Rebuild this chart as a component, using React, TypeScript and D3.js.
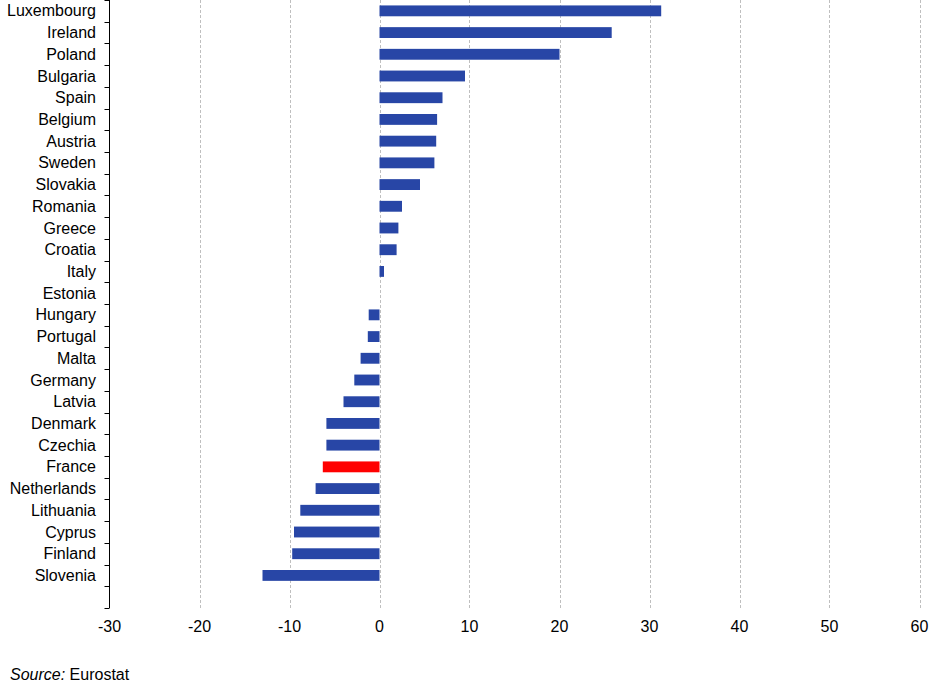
import React from "react";
import * as d3 from "d3";

const countries = [
  "Luxembourg", "Ireland", "Poland", "Bulgaria", "Spain", "Belgium", "Austria",
  "Sweden", "Slovakia", "Romania", "Greece", "Croatia", "Italy", "Estonia",
  "Hungary", "Portugal", "Malta", "Germany", "Latvia", "Denmark", "Czechia",
  "France", "Netherlands", "Lithuania", "Cyprus", "Finland", "Slovenia",
];
const values = [
  31.3, 25.8, 20.0, 9.5, 7.0, 6.4, 6.3,
  6.1, 4.5, 2.5, 2.1, 1.9, 0.5, 0.0,
  -1.2, -1.3, -2.1, -2.8, -4.0, -5.9, -5.9,
  -6.3, -7.1, -8.8, -9.5, -9.7, -13.0,
];
const highlight = ["France"];
const xTicks = [-30, -20, -10, 0, 10, 20, 30, 40, 50, 60];

const W = 936;
const H = 682;
const axisX = 109.5;
const plotTop = 0;
const plotBottom = 608;

export default function App() {
  const x = d3.scaleLinear().domain([-30, 60]).range([axisX, 919.5]);
  const domain = [...countries, "__blank__"];
  const y = d3
    .scaleBand<string>()
    .domain(domain)
    .range([plotTop, plotBottom])
    .paddingInner(0.5)
    .paddingOuter(0.25);
  const step = y.step();
  const boundaries = d3.range(domain.length + 1).map((i) => plotTop + i * step);
  const font = "Arial, 'Liberation Sans', sans-serif";

  return (
    <svg
      width={W}
      height={H}
      style={{ position: "absolute", left: 0, top: 0, background: "#fff" }}
      fontFamily={font}
    >
      {xTicks.map((t) =>
        t === -30 ? null : (
          <line
            key={"g" + t}
            x1={Math.round(x(t)) + 0.5}
            x2={Math.round(x(t)) + 0.5}
            y1={plotTop}
            y2={plotBottom}
            stroke="#bfbfbf"
            strokeWidth={1}
            strokeDasharray="3,2"
          />
        )
      )}
      {countries.map((c, i) => {
        const v = values[i];
        const x0 = x(Math.min(0, v));
        const x1 = x(Math.max(0, v));
        return (
          <rect
            key={c}
            x={x0}
            y={y(c)}
            width={Math.max(0, x1 - x0)}
            height={y.bandwidth()}
            fill={highlight.includes(c) ? "#ff0000" : "#2846a6"}
          />
        );
      })}
      <line x1={axisX} x2={axisX} y1={plotTop} y2={plotBottom} stroke="#000" strokeWidth={1} />
      {boundaries.map((b, i) => (
        <line
          key={"t" + i}
          x1={axisX - 5}
          x2={axisX}
          y1={Math.round(b) + 0.5}
          y2={Math.round(b) + 0.5}
          stroke="#000"
          strokeWidth={1}
        />
      ))}
      {countries.map((c) => (
        <text
          key={"l" + c}
          x={96}
          y={(y(c) as number) + y.bandwidth() / 2}
          dy="0.35em"
          textAnchor="end"
          fontSize={16}
          fill="#000"
        >
          {c}
        </text>
      ))}
      {xTicks.map((t) => (
        <text key={"x" + t} x={x(t)} y={632} textAnchor="middle" fontSize={16} fill="#000">
          {t}
        </text>
      ))}
      <text x={10} y={680} fontSize={16} fill="#000">
        <tspan fontStyle="italic">Source:</tspan>
        <tspan> Eurostat</tspan>
      </text>
    </svg>
  );
}
